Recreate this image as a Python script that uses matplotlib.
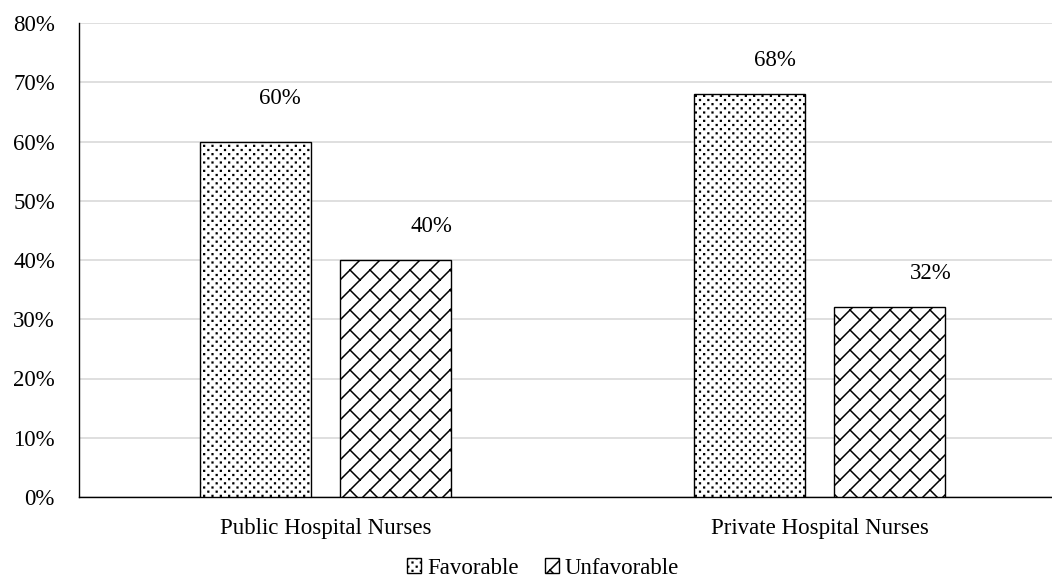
import numpy as np
import matplotlib
matplotlib.use("Agg")
import matplotlib.pyplot as plt
import matplotlib.hatch as mhatch
from matplotlib.path import Path
from matplotlib.ticker import FuncFormatter

# ---- data -------------------------------------------------------------
categories = ["Public Hospital Nurses", "Private Hospital Nurses"]
series_names = ["Favorable", "Unfavorable"]
favorable = [60, 68]      # percent
unfavorable = [40, 32]    # percent
y_ticks = [0, 10, 20, 30, 40, 50, 60, 70, 80]

# ---- custom fill patterns (dotted grid and diagonal brick) ----------
DOT_HATCH = ".."
BRICK_HATCH = "/\\"
_base_get_path = mhatch.get_path


def _dot_path(cols=12, rows=24, half=0.0035):
    verts, codes = [], []
    for r in range(rows + 1):
        y = r / rows
        shift = 0.5 / cols if r % 2 else 0.0
        for c in range(-1, cols + 1):
            x = c / cols + shift
            verts += [(x - half, y - half), (x + half, y - half),
                      (x + half, y + half), (x - half, y + half), (x, y)]
            codes += [Path.MOVETO, Path.LINETO, Path.LINETO, Path.LINETO,
                      Path.CLOSEPOLY]
    return Path(np.array(verts), np.array(codes, dtype=Path.code_type))


def _brick_path(n=5):
    p = 1.0 / n
    verts, codes = [], []
    for i in range(-1, n + 1):
        for j in range(-1, n + 1):
            x0, y0 = i * p, j * p
            verts += [(x0, y0), (x0 + p, y0 + p),
                      (x0 + p / 2, y0 + p / 2), (x0 + p, y0)]
            codes += [Path.MOVETO, Path.LINETO, Path.MOVETO, Path.LINETO]
    return Path(np.array(verts), np.array(codes, dtype=Path.code_type))


def _get_path(hatchpattern, density=6):
    if hatchpattern == DOT_HATCH:
        return _dot_path()
    if hatchpattern == BRICK_HATCH:
        return _brick_path()
    return _base_get_path(hatchpattern, density)


mhatch.get_path = _get_path

# ---- style ------------------------------------------------------------
plt.rcParams["font.family"] = ["Liberation Serif", "DejaVu Serif"]
plt.rcParams["hatch.linewidth"] = 1.1
plt.rcParams["hatch.color"] = "black"
FS = 16.5

fig = plt.figure(figsize=(10.52, 5.77), dpi=100)
ax = fig.add_axes([78.5 / 1052, 80 / 577, (1052 - 78.5) / 1052, 474 / 577])

x = np.arange(len(categories))
width = 0.2247
offset = 0.1422

bars_fav = ax.bar(x - offset, favorable, width, color="white",
                  edgecolor="black", linewidth=1.0, hatch=DOT_HATCH,
                  label=series_names[0], zorder=3)
bars_unf = ax.bar(x + offset, unfavorable, width, color="white",
                  edgecolor="black", linewidth=1.0, hatch=BRICK_HATCH,
                  label=series_names[1], zorder=3)

# value labels, nudged up and to the right of each bar
label_offsets = {  # pixel offsets (dx, dy) from the bar's top centre
    (0, 0): (25, 43), (0, 1): (26, 34),
    (1, 0): (36, 34), (1, 1): (41, 34),
}
for s, bars in enumerate([bars_fav, bars_unf]):
    vals = favorable if s == 0 else unfavorable
    for k, (b, v) in enumerate(zip(bars, vals)):
        dx, dy = label_offsets[(s, k)]
        ax.annotate(f"{v}%", (b.get_x() + b.get_width() / 2, v),
                    xytext=(dx * 0.72, dy * 0.72), textcoords="offset points",
                    ha="center", va="center", fontsize=FS, color="black",
                    zorder=4)

ax.set_xlim(-0.5, 1.4706)
ax.set_ylim(0, 80)
ax.set_yticks(y_ticks)
ax.yaxis.set_major_formatter(FuncFormatter(lambda v, _: f"{v:.0f}%"))
ax.set_xticks(x)
ax.set_xticklabels(categories)
ax.tick_params(axis="y", length=0, pad=17, labelsize=FS)
ax.tick_params(axis="x", length=0, pad=15, labelsize=FS)

ax.grid(axis="y", color="#d9d9d9", linewidth=1.2)
ax.set_axisbelow(True)
for side in ["top", "right"]:
    ax.spines[side].set_visible(False)
ax.spines["left"].set_color("black")
ax.spines["left"].set_linewidth(1.0)
ax.spines["bottom"].set_color("black")
ax.spines["bottom"].set_linewidth(1.0)

fig.legend(handles=[bars_fav, bars_unf], labels=series_names,
           loc="center", bbox_to_anchor=(543 / 1052, 1 - 568 / 577),
           ncol=2, frameon=False, fontsize=FS,
           handlelength=0.6, handleheight=0.6, handletextpad=0.25,
           columnspacing=1.15, borderpad=0)

fig.savefig("out.png", dpi=100)
